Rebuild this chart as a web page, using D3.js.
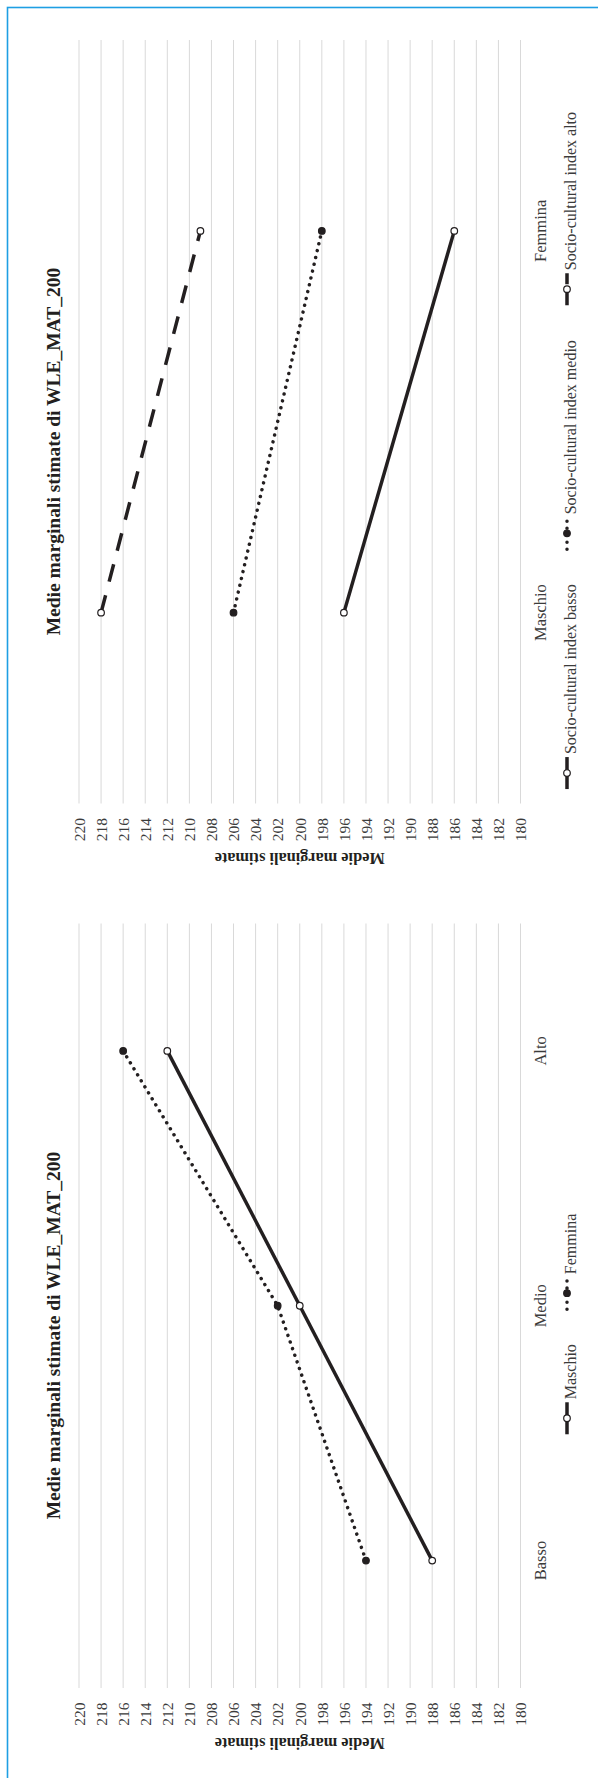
<!DOCTYPE html>
<html>
<head>
<meta charset="utf-8">
<script src="https://cdn.jsdelivr.net/npm/d3@7"></script>
<style>
  body { margin: 0; background: #fff; }
  svg { display: block; }
</style>
</head>
<body>
<svg id="chart" width="598" height="1778"></svg>
<script>
// ---------------- DATA ----------------
const chartTitle = "Medie marginali stimate di WLE_MAT_200";
const axisTitle = "Medie marginali stimate";
const valueTicks = [180, 182, 184, 186, 188, 190, 192, 194, 196, 198, 200, 202, 204, 206, 208, 210, 212, 214, 216, 218, 220];

// Chart 1 (top): gender on the category axis, one line per socio-cultural level
const genderCategories = ["Maschio", "Femmina"];
const sesSeriesNames = ["Socio-cultural index basso", "Socio-cultural index medio", "Socio-cultural index alto"];
const sesBasso = [196, 186];
const sesMedio = [206, 198];
const sesAlto = [218, 209];

// Chart 2 (bottom): socio-cultural level on the category axis, one line per gender
const sesCategories = ["Basso", "Medio", "Alto"];
const genderSeriesNames = ["Maschio", "Femmina"];
const maschioValues = [188, 200, 212];
const femminaValues = [194, 202, 216];

// ---------------- STYLE ----------------
const FONT = "'Liberation Serif', 'Times New Roman', Times, serif";
const INK = "#231f20";
const TEXT = "#3b3b3b";
const lineStyles = {
  solid:  { dash: null,      cap: "butt",  fill: "#ffffff" },
  dotted: { dash: "0.01 7",  cap: "round", fill: INK },
  dashed: { dash: "18 14",   cap: "butt",  fill: "#ffffff" }
};

const svg = d3.select("#chart");
svg.append("rect").attr("width", 598).attr("height", 1778).attr("fill", "#fff");
// blue frame (only top/left edges visible in the page)
svg.append("rect")
  .attr("x", 7.5).attr("y", 7.5).attr("width", 900).attr("height", 2000)
  .attr("fill", "none").attr("stroke", "#1e9fe3").attr("stroke-width", 1.6);

const x = d3.scaleLinear().domain([180, 220]).range([520.5, 79]);

function drawChart(cfg) {
  const g = svg.append("g");
  const y = d3.scaleBand().domain(cfg.categories).range([cfg.plotBottom, cfg.plotTop]);
  const cy = c => y(c) + y.bandwidth() / 2;

  // gridlines
  g.append("g").selectAll("line").data(valueTicks).join("line")
    .attr("x1", d => x(d)).attr("x2", d => x(d))
    .attr("y1", cfg.plotTop).attr("y2", cfg.plotBottom)
    .attr("stroke", "#d9d9d9").attr("stroke-width", 1);

  // value axis (tick labels)
  const ax = g.append("g")
    .attr("transform", `translate(0,${cfg.plotBottom})`)
    .call(d3.axisBottom(x).tickValues(valueTicks).tickSize(0).tickPadding(0).tickFormat(d3.format("d")));
  ax.select(".domain").remove();
  ax.attr("font-family", FONT).attr("font-size", 15.5);
  ax.selectAll("text")
    .attr("x", 0).attr("y", 0).attr("dy", "0.34em")
    .attr("fill", TEXT)
    .attr("text-anchor", "end")
    .attr("transform", "translate(0,14.5) rotate(-90)");

  // axis title (upside down)
  g.append("text")
    .attr("transform", `translate(${(x(180) + x(220)) / 2},${cfg.plotBottom + 49.5}) rotate(180)`)
    .attr("text-anchor", "middle")
    .attr("font-family", FONT).attr("font-weight", "bold").attr("font-size", 16.3)
    .attr("fill", INK)
    .text(axisTitle);

  // category labels
  g.append("g").selectAll("text").data(cfg.categories).join("text")
    .attr("transform", d => `translate(546,${cy(d)}) rotate(-90)`)
    .attr("text-anchor", "middle")
    .attr("font-family", FONT).attr("font-size", 16.5)
    .attr("fill", TEXT)
    .text(d => d);

  // chart title
  g.append("text")
    .attr("transform", `translate(59.5,${cfg.titleCy}) rotate(-90)`)
    .attr("text-anchor", "middle")
    .attr("font-family", FONT).attr("font-weight", "bold").attr("font-size", 19.5)
    .attr("fill", INK)
    .text(chartTitle);

  // series
  const line = d3.line().x(d => x(d.v)).y(d => cy(d.c));
  cfg.series.forEach(s => {
    const st = lineStyles[s.style];
    const pts = cfg.categories.map((c, i) => ({ c, v: s.values[i] }));
    g.append("path").datum(pts)
      .attr("d", line)
      .attr("fill", "none").attr("stroke", INK).attr("stroke-width", 3.5)
      .attr("stroke-linecap", st.cap)
      .attr("stroke-dasharray", st.dash);
    g.append("g").selectAll("circle").data(pts).join("circle")
      .attr("cx", d => x(d.v)).attr("cy", d => cy(d.c)).attr("r", 3.3)
      .attr("fill", st.fill).attr("stroke", INK).attr("stroke-width", 1.2);
  });

  // legend
  const L = 32, tg = 3, gap = 35, lx = 567, tx = 575.5;
  const lg = g.append("g");
  const texts = cfg.series.map(s => lg.append("text")
    .attr("font-family", FONT).attr("font-size", 16).attr("fill", TEXT)
    .attr("text-anchor", "start").text(s.name));
  const widths = texts.map(t => t.node().getComputedTextLength());
  const total = d3.sum(widths) + cfg.series.length * (L + tg) + gap * (cfg.series.length - 1);
  let yb = cfg.legendCy + total / 2;
  cfg.series.forEach((s, i) => {
    const st = lineStyles[s.style];
    lg.append("line")
      .attr("x1", lx).attr("x2", lx).attr("y1", yb).attr("y2", yb - L)
      .attr("stroke", INK).attr("stroke-width", 3.5)
      .attr("stroke-linecap", st.cap)
      .attr("stroke-dasharray", s.style === "dashed" ? "13 8" : st.dash);
    lg.append("circle")
      .attr("cx", lx).attr("cy", yb - L / 2).attr("r", 3.3)
      .attr("fill", st.fill).attr("stroke", INK).attr("stroke-width", 1.2);
    texts[i].attr("transform", `translate(${tx},${yb - L - tg}) rotate(-90)`);
    yb -= L + tg + widths[i] + gap;
  });
}

drawChart({
  plotTop: 40, plotBottom: 803.5,
  categories: genderCategories,
  titleCy: 451.5, legendCy: 450.5,
  series: [
    { name: sesSeriesNames[0], values: sesBasso, style: "solid" },
    { name: sesSeriesNames[1], values: sesMedio, style: "dotted" },
    { name: sesSeriesNames[2], values: sesAlto,  style: "dashed" }
  ]
});

drawChart({
  plotTop: 923.5, plotBottom: 1688,
  categories: sesCategories,
  titleCy: 1335.5, legendCy: 1324,
  series: [
    { name: genderSeriesNames[0], values: maschioValues, style: "solid" },
    { name: genderSeriesNames[1], values: femminaValues, style: "dotted" }
  ]
});
</script>
</body>
</html>
